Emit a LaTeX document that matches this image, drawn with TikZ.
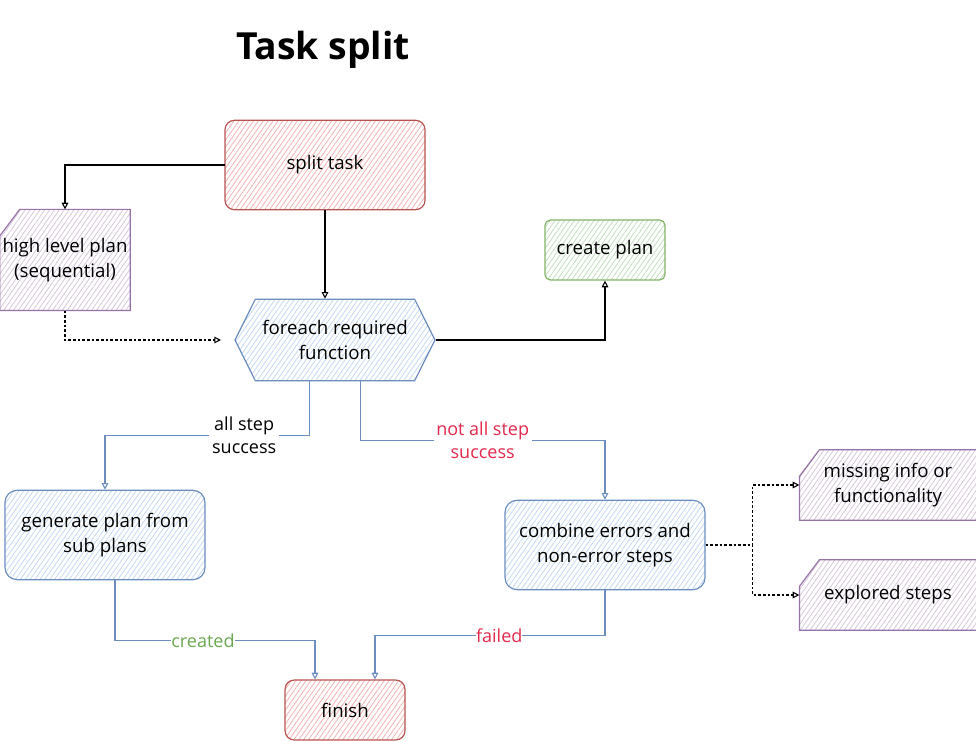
\documentclass[tikz,border=0pt]{standalone}
\usepackage{fontspec}
\setmainfont{Open Sans}
\usetikzlibrary{positioning,calc,shapes.symbols,arrows.meta,patterns.meta,backgrounds}
\definecolor{redline}{HTML}{B85450}
\definecolor{redfill}{HTML}{F2B3B0}
\definecolor{blueline}{HTML}{6C8EBF}
\definecolor{bluefill}{HTML}{C3D8F2}
\definecolor{greenline}{HTML}{82B366}
\definecolor{greenfill}{HTML}{C2DEBF}
\definecolor{purpleline}{HTML}{9673A6}
\definecolor{purplefill}{HTML}{D6C6DD}
\definecolor{redtext}{HTML}{E3284B}
\definecolor{greentext}{HTML}{6AA84F}
\newcommand\cardoutline[1]{\draw[cardline] ([yshift=-20pt]#1.north west) -- ([xshift=15pt]#1.north west)
  -- (#1.north east) -- (#1.south east) -- (#1.south west) -- cycle;}

\begin{document}
\begin{tikzpicture}[x=0.75pt,y=-0.75pt,
  box/.style={line width=0.9pt, align=center, inner sep=1pt, font=\fontsize{14}{19}\selectfont},
  hatch/.style={pattern={Lines[angle=55,distance=3pt,line width=0.6pt]}, pattern color=#1},
  redbox/.style={box, rounded corners=7pt, draw=redline, hatch=redfill},
  bluebox/.style={box, rounded corners=9pt, draw=blueline, hatch=bluefill},
  greenbox/.style={box, rounded corners=4pt, draw=greenline, hatch=greenfill},
  card/.style={box, inner sep=0pt},
  cardline/.style={line width=0.9pt, draw=purpleline, hatch=purplefill},
  flow/.style={line width=0.8pt, -{Triangle[open,length=5pt,width=5pt]}},
  bflow/.style={flow, draw=blueline},
  dflow/.style={flow, dash pattern=on 2pt off 1.5pt},
  lbl/.style={fill=white, inner sep=2pt, align=center, font=\fontsize{13.5}{17}\selectfont}
]
\useasboundingbox (0,0) rectangle (976,741);

\node (title) at (323,50) {\fontsize{28}{32}\selectfont\bfseries Task split};

\node[redbox, minimum width=150pt, minimum height=67pt] (split) at (325,165) {split task};
\node[card, minimum width=97pt, minimum height=75pt] (hlp) at (65,260) {high level plan\\(sequential)};
\node[greenbox, minimum width=90pt, minimum height=45pt] (cp) at (605,250) {create plan};
\node[box, signal, signal to=west and east, signal pointer angle=127, draw=blueline, hatch=bluefill,
  minimum width=150pt, minimum height=61pt] (fe) at (335,340) {foreach required\\function};
\node[bluebox, minimum width=150pt, minimum height=67pt] (gen) at (105,535) {generate plan from\\sub plans};
\node[bluebox, minimum width=150pt, minimum height=67pt] (comb) at (605,545) {combine errors and\\non-error steps};
\node[card, minimum width=132pt, minimum height=52pt] (miss) at (888,485) {missing info or\\functionality};
\node[card, minimum width=132pt, minimum height=52pt] (expl) at (888,595) {explored steps};
\node[redbox, minimum width=90pt, minimum height=45pt] (fin) at (345,710) {finish};

\begin{pgfonlayer}{background}
\cardoutline{hlp}
\cardoutline{miss}
\cardoutline{expl}
\end{pgfonlayer}

\draw[flow] (split.west) -| (hlp.north);
\draw[flow] (split.south) -- (fe.north -| split.south);
\draw[dflow, shorten >=10pt] (hlp.south) |- (fe.west);
\draw[flow] (fe.east) -| (cp.south);

\draw[bflow] ([xshift=-19pt]fe.south) -- ++(0,54) -| (gen.north)
  node[lbl, pos=0.16] {all step\\success};
\draw[bflow] ([xshift=19pt]fe.south) -- ++(0,59) -| (comb.north)
  node[lbl, text=redtext, pos=0.25] {not all step\\success};
\draw[bflow] ([xshift=7.5pt]gen.south) -- ++(0,60) -| ([xshift=-22.5pt]fin.north)
  node[lbl, text=greentext, pos=0.22, inner sep=0pt] {created};
\draw[bflow] (comb.south) -- ++(0,45) -| ([xshift=22.5pt]fin.north)
  node[lbl, text=redtext, pos=0.23, inner sep=0pt] {failed};

\draw[dflow] (comb.east) -- ++(47,0) |- (miss.west);
\draw[dflow] (comb.east) -- ++(47,0) |- (expl.west);
\end{tikzpicture}
\end{document}
